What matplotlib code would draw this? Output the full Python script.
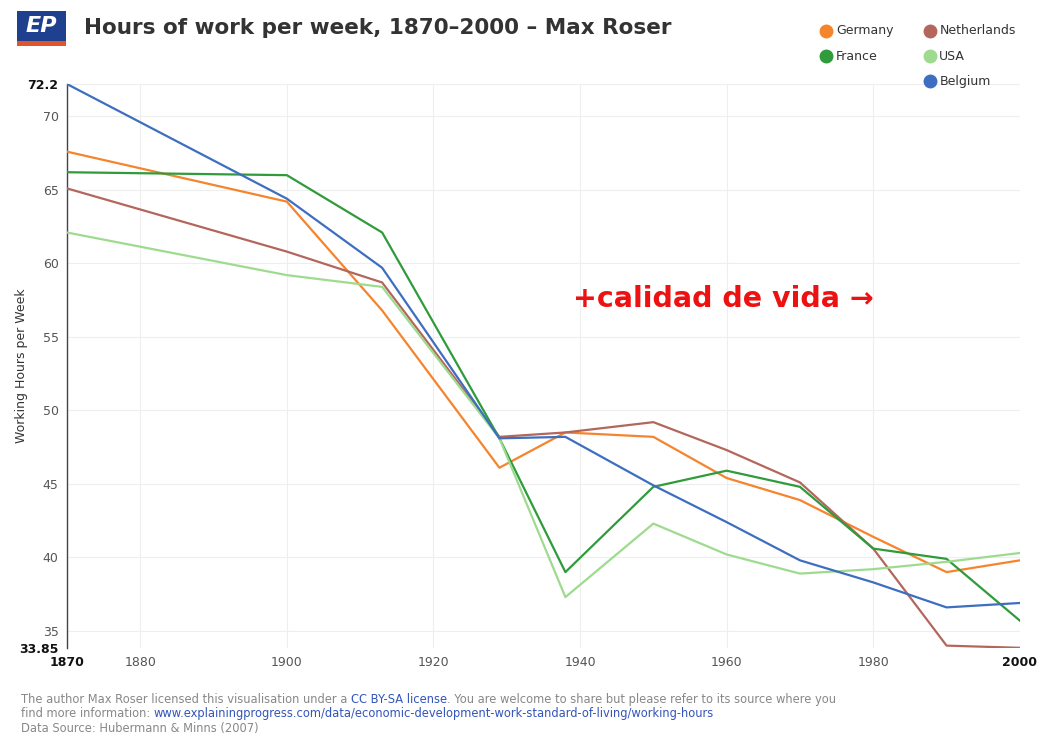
"""
Hours of work per week, 1870-2000 (Max Roser / Huberman & Minns).
"""

import matplotlib.pyplot as plt
from matplotlib.patches import Rectangle

years = [1870, 1900, 1913, 1929, 1938, 1950, 1960, 1970, 1980, 1990, 2000]

germany = [67.6, 64.2, 56.8, 46.1, 48.5, 48.2, 45.4, 43.9, 41.4, 39.0, 39.8]
france = [66.2, 66.0, 62.1, 48.1, 39.0, 44.8, 45.9, 44.8, 40.6, 39.9, 35.7]
netherlands = [65.1, 60.8, 58.7, 48.2, 48.5, 49.2, 47.3, 45.1, 40.6, 34.0, 33.85]
usa = [62.1, 59.2, 58.4, 48.1, 37.3, 42.3, 40.2, 38.9, 39.2, 39.7, 40.3]
belgium = [72.2, 64.4, 59.7, 48.1, 48.2, 44.9, 42.4, 39.8, 38.3, 36.6, 36.9]

series = [
    ("Germany", germany, "#f5842c"),
    ("Netherlands", netherlands, "#b3675c"),
    ("France", france, "#2f9b3b"),
    ("USA", usa, "#9edb8f"),
    ("Belgium", belgium, "#3d6ec0"),
]

x_ticks = [1870, 1880, 1900, 1920, 1940, 1960, 1980, 2000]
y_ticks = [33.85, 35, 40, 45, 50, 55, 60, 65, 70, 72.2]
y_tick_labels = ["33.85", "35", "40", "45", "50", "55", "60", "65", "70", "72.2"]
y_min, y_max = 33.85, 72.2

footer_lines = [
    [("The author Max Roser licensed this visualisation under a ", "#888888"),
     ("CC BY-SA license", "#3355bb"),
     (". You are welcome to share but please refer to its source where you", "#888888")],
    [("find more information: ", "#888888"),
     ("www.explainingprogress.com/data/economic-development-work-standard-of-living/working-hours",
      "#3355bb")],
    [("Data Source: Hubermann & Minns (2007)", "#888888")],
]

fig = plt.figure(figsize=(10.46, 7.37), dpi=100)
ax = fig.add_axes([0.064, 0.121, 0.911, 0.765])

for name, values, color in series:
    ax.plot(years, values, color=color, linewidth=1.6, zorder=3)

ax.set_xlim(1870, 2000)
ax.set_ylim(y_min, y_max)

ax.set_xticks(x_ticks)
ax.set_xticklabels([str(y) for y in x_ticks])
ax.set_yticks(y_ticks)
ax.set_yticklabels(y_tick_labels)
ax.tick_params(length=0, labelsize=9, colors="#555555", pad=6)
for lbl in ax.get_xticklabels():
    if lbl.get_text() in ("1870", "2000"):
        lbl.set_fontweight("bold")
        lbl.set_color("#111111")
for lbl in ax.get_yticklabels():
    if lbl.get_text() in ("33.85", "72.2"):
        lbl.set_fontweight("bold")
        lbl.set_color("#111111")

ax.grid(True, color="#eeeeee", linewidth=0.8, zorder=0)
for side in ("top", "right", "bottom"):
    ax.spines[side].set_visible(False)
ax.spines["left"].set_color("#444444")
ax.spines["left"].set_linewidth(1.0)

ax.set_ylabel("Working Hours per Week", fontsize=9, color="#333333")
ax.yaxis.set_label_coords(-0.041, 0.5)

# red annotation
ax.text(1939.0, 57.0, "+calidad de vida \u2192", color="#ee1111", fontsize=20.5,
        fontweight="bold", family="DejaVu Sans", zorder=4)

# EP logo
fig.patches.append(Rectangle((0.016, 0.945), 0.047, 0.04, transform=fig.transFigure,
                             facecolor="#1f3f8f", edgecolor="none"))
fig.patches.append(Rectangle((0.016, 0.937), 0.047, 0.008, transform=fig.transFigure,
                             facecolor="#e0552a", edgecolor="none"))
fig.text(0.0395, 0.965, "EP", color="white", fontsize=16, fontweight="bold",
         style="italic", ha="center", va="center")

fig.text(0.08, 0.962, "Hours of work per week, 1870\u20132000 \u2013 Max Roser",
         fontsize=15.5, fontweight="bold", color="#333333", va="center")

# legend with circle markers
legend_items = [
    ("Germany", "#f5842c", 0.790, 0.958),
    ("France", "#2f9b3b", 0.790, 0.924),
    ("Netherlands", "#b3675c", 0.889, 0.958),
    ("USA", "#9edb8f", 0.889, 0.924),
    ("Belgium", "#3d6ec0", 0.889, 0.890),
]
for name, color, lx, ly in legend_items:
    fig.lines.append(plt.Line2D([lx], [ly], marker="o", markersize=9, color=color,
                                transform=fig.transFigure))
    fig.text(lx + 0.009, ly, name, fontsize=9, color="#333333", va="center")

# footer, each piece chained after the previous one
for row, y in zip(footer_lines, [0.051, 0.032, 0.012]):
    prev = None
    for text, color in row:
        if prev is None:
            prev = fig.text(0.02, y, text, fontsize=8.3, color=color, va="center")
        else:
            prev = ax.annotate(text, xy=(1, 0.5), xycoords=prev, fontsize=8.3,
                               color=color, va="center", ha="left",
                               annotation_clip=False)

fig.savefig("out.png", dpi=100)
